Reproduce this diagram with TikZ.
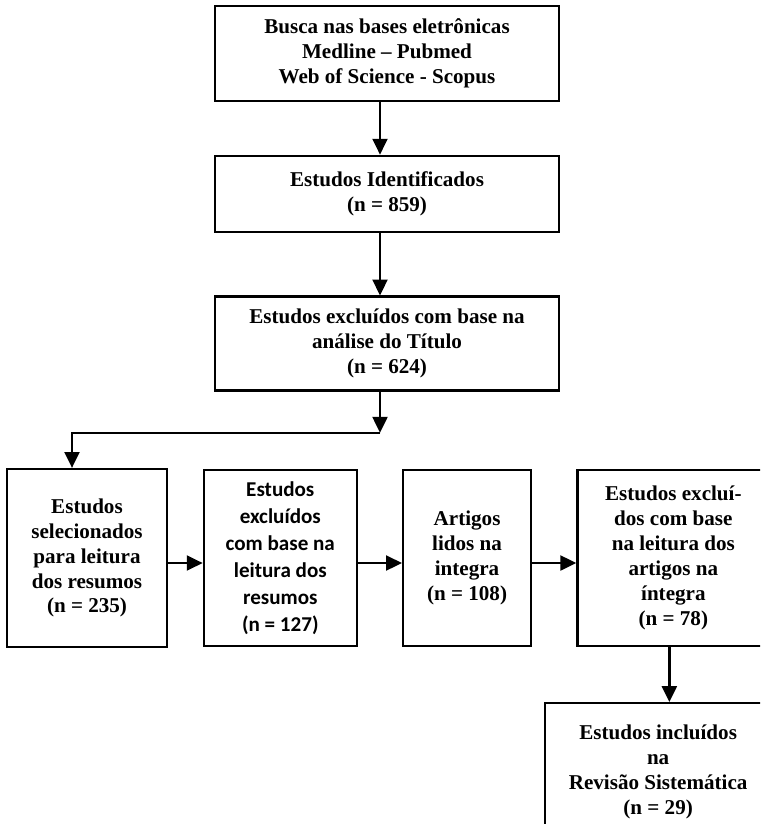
\documentclass[tikz,border=0pt]{standalone}
\usepackage{fontspec}
\setmainfont{Liberation Serif}
\newfontfamily\calfont{Carlito}
\usetikzlibrary{arrows.meta,positioning}

\begin{document}
\begin{tikzpicture}[
    box/.style={rectangle, draw, line width=1.3pt, align=center, font=\bfseries\fontsize{12}{14.2}\selectfont},
    arrow/.style={-{Triangle[length=9pt,width=8.5pt]}, line width=1.3pt}
]
\useasboundingbox (0,0) rectangle (15.2,-16.48);
\clip (0,0) rectangle (15.2,-16.48);

\node[box, minimum width=6.88cm, minimum height=1.9cm] (busca) at (7.74,-1.07) {Busca nas bases eletrônicas\\Medline – Pubmed\\Web of Science - Scopus};
\node[box, minimum width=6.88cm, minimum height=1.52cm, below=1.05cm of busca] (ident) {Estudos Identificados\\(n = 859)};
\node[box, minimum width=6.88cm, minimum height=1.88cm, below=1.25cm of ident] (titulo) {Estudos excluídos com base na\\análise do Título\\(n = 624)};
\path ([xshift=-0.14cm]titulo.south) ++(0,-0.82) coordinate (split) ++(-6.16,0) coordinate (corner);

\node[box, minimum width=3.2cm, minimum height=3.56cm] (selec) at (1.74,-11.16) {Estudos\\selecionados\\para leitura\\dos resumos\\(n = 235)};
\node[box, minimum width=3.06cm, minimum height=3.52cm, right=0.69cm of selec, font=\calfont\bfseries\fontsize{12}{15.4}\selectfont] (exclres) {Estudos\\excluídos\\com base na\\leitura dos\\resumos\\(n = 127)};
\node[box, minimum width=2.56cm, minimum height=3.52cm, right=0.88cm of exclres] (lidos) {Artigos\\lidos na\\integra\\(n = 108)};
\node[box, minimum width=3.84cm, minimum height=3.52cm, right=0.88cm of lidos] (exclint) {Estudos excluí-\\dos com base\\na leitura dos\\artigos na\\íntegra\\(n = 78)};
\node[box, minimum width=4.52cm, minimum height=2.76cm, anchor=north west] (incl) at (10.88,-14.04) {Estudos incluídos\\na\\Revisão Sistemática\\(n = 29)};

\draw[arrow] ([xshift=-0.14cm]busca.south) -- ([xshift=-0.14cm]ident.north);
\draw[arrow] ([xshift=-0.14cm]ident.south) -- ([xshift=-0.14cm]titulo.north);
\draw[arrow] ([xshift=-0.14cm]titulo.south) -- (split);
\draw[arrow] (split) -- (corner) -- (corner |- selec.north);
\draw[arrow] ([yshift=-0.1cm]selec.east) -- ([yshift=-0.1cm]exclres.west);
\draw[arrow] ([yshift=-0.1cm]exclres.east) -- ([yshift=-0.1cm]lidos.west);
\draw[arrow] ([yshift=-0.1cm]lidos.east) -- ([yshift=-0.1cm]exclint.west);
\draw[arrow] ([xshift=-0.08cm]exclint.south) -- ([xshift=-0.08cm]exclint.south |- incl.north);
\end{tikzpicture}
\end{document}
